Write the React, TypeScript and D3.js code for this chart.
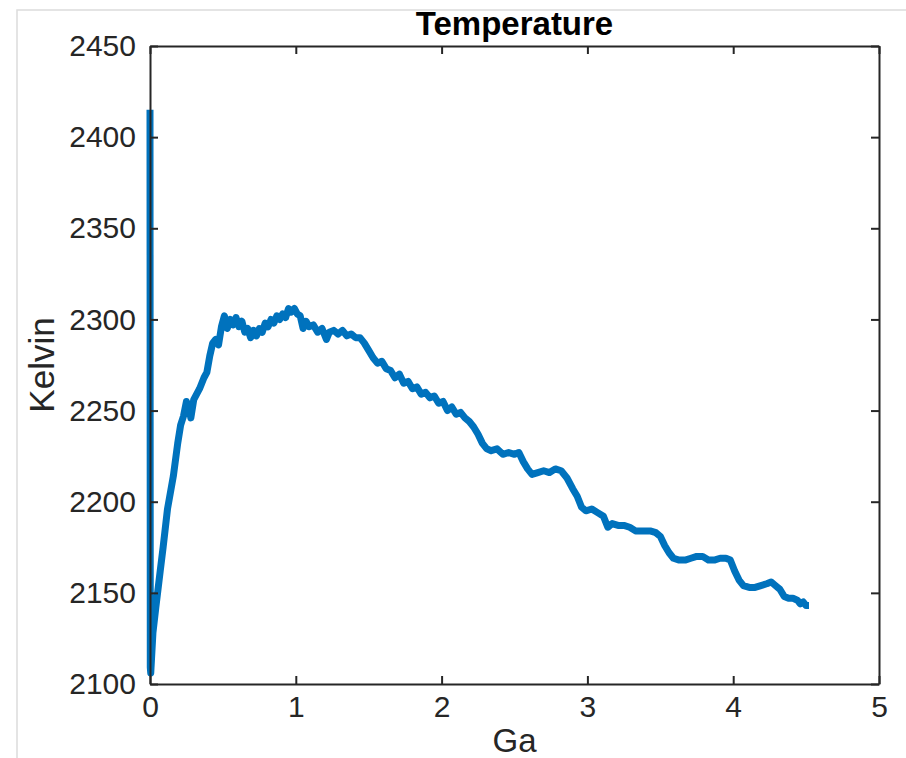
import { useEffect, useRef } from 'react';
import * as d3 from 'd3';

// Temperature series (Ga, Kelvin)
const ga = [
  0, 0.002, 0.005, 0.02, 0.04, 0.07, 0.09, 0.12, 0.16, 0.19, 0.21, 0.23, 0.25, 0.27, 0.28, 0.30,
  0.32, 0.34, 0.37, 0.39, 0.41, 0.43, 0.45, 0.47, 0.49, 0.51, 0.53, 0.55, 0.57, 0.59, 0.61, 0.63,
  0.65, 0.67, 0.69, 0.71, 0.73, 0.75, 0.77, 0.79, 0.81, 0.83, 0.85, 0.87, 0.89, 0.91, 0.93, 0.95,
  0.97, 0.99, 1.01, 1.03, 1.05, 1.07, 1.09, 1.12, 1.15, 1.18, 1.21, 1.23, 1.26, 1.29, 1.32, 1.35,
  1.38, 1.41, 1.44, 1.47, 1.50, 1.53, 1.56, 1.59, 1.62, 1.65, 1.68, 1.71, 1.74, 1.77, 1.80, 1.83,
  1.86, 1.89, 1.92, 1.95, 1.98, 2.01, 2.04, 2.07, 2.10, 2.13, 2.16, 2.19, 2.22, 2.25, 2.28, 2.31,
  2.34, 2.38, 2.42, 2.46, 2.50, 2.53, 2.56, 2.59, 2.62, 2.66, 2.70, 2.74, 2.78, 2.82, 2.86, 2.90,
  2.93, 2.96, 2.99, 3.03, 3.07, 3.11, 3.14, 3.17, 3.21, 3.25, 3.29, 3.33, 3.38, 3.43, 3.47, 3.50,
  3.53, 3.56, 3.59, 3.63, 3.67, 3.71, 3.75, 3.79, 3.83, 3.87, 3.91, 3.95, 3.98, 4.01, 4.04, 4.07,
  4.11, 4.15, 4.19, 4.23, 4.26, 4.29, 4.32, 4.35, 4.38, 4.41, 4.44, 4.46, 4.48, 4.50, 4.52,
];
const kelvin = [
  2415, 2109, 2106, 2128, 2142, 2162, 2175, 2196, 2214, 2232, 2242, 2247, 2255, 2250, 2246, 2256,
  2259, 2262, 2268, 2271, 2280, 2287, 2289, 2286, 2296, 2302, 2295, 2300, 2297, 2301, 2296, 2299,
  2293, 2295, 2290, 2294, 2291, 2295, 2293, 2298, 2296, 2300, 2298, 2302, 2300, 2303, 2301, 2306,
  2304, 2306, 2303, 2302, 2295, 2299, 2296, 2297, 2293, 2295, 2289, 2293, 2294, 2292, 2294, 2291,
  2292, 2290, 2290, 2287, 2283, 2279, 2276, 2277, 2273, 2272, 2268, 2270, 2265, 2266, 2262, 2263,
  2259, 2260, 2257, 2258, 2254, 2255, 2250, 2252, 2248, 2249, 2246, 2244, 2241, 2237, 2232, 2229,
  2228, 2229, 2226, 2227, 2226, 2227, 2222, 2218, 2215, 2216, 2217, 2216, 2218, 2217, 2213, 2207,
  2203, 2197, 2195, 2196, 2194, 2192, 2186, 2188, 2187, 2187, 2186, 2184, 2184, 2184, 2183, 2181,
  2176, 2172, 2169, 2168, 2168, 2169, 2170, 2170, 2168, 2168, 2169, 2169, 2168, 2162, 2157, 2154,
  2153, 2153, 2154, 2155, 2156, 2154, 2152, 2148, 2147, 2147, 2146, 2144, 2145, 2143, 2143,
];

const xTicks = [0, 1, 2, 3, 4, 5];
const yTicks = [2100, 2150, 2200, 2250, 2300, 2350, 2400, 2450];

const FONT = '"Liberation Sans", Arial, Helvetica, sans-serif';
const AXIS_COLOR = '#262626';

export default function App() {
  const svgRef = useRef<SVGSVGElement>(null);

  useEffect(() => {
    const svg = d3.select(svgRef.current);
    svg.selectAll('*').remove();

    const width = 906;
    const height = 758;
    const plot = { left: 150, right: 879, top: 46, bottom: 684 };

    const x = d3.scaleLinear().domain([0, 5]).range([plot.left, plot.right]);
    const y = d3.scaleLinear().domain([2100, 2450]).range([plot.bottom, plot.top]);

    svg.attr('width', width).attr('height', height);

    // faint frame of the original screenshot
    svg.append('path')
      .attr('d', `M17,${height + 5}V10H${width + 5}`)
      .attr('fill', 'none')
      .attr('stroke', '#dcdcdc')
      .attr('stroke-width', 1.5);

    const data = ga.map((g, i) => ({ g, k: kelvin[i] }));

    const line = d3.line<{ g: number; k: number }>()
      .x(d => x(d.g))
      .y(d => y(d.k));

    svg.append('path')
      .datum(data)
      .attr('fill', 'none')
      .attr('stroke', '#0072BD')
      .attr('stroke-width', 7)
      .attr('stroke-linejoin', 'round')
      .attr('d', line);

    const styleAxis = (g: any) => {
      g.select('.domain').attr('stroke', AXIS_COLOR).attr('stroke-width', 2);
      g.selectAll('.tick line').attr('stroke', AXIS_COLOR).attr('stroke-width', 2);
      g.selectAll('.tick text')
        .attr('fill', AXIS_COLOR)
        .style('font-family', FONT)
        .style('font-size', '30px');
    };

    // bottom
    svg.append('g')
      .attr('transform', `translate(0,${plot.bottom})`)
      .call(d3.axisBottom(x).tickValues(xTicks).tickSizeInner(-8).tickSizeOuter(0).tickPadding(12).tickFormat(d3.format('d')))
      .call(styleAxis);

    // top
    svg.append('g')
      .attr('transform', `translate(0,${plot.top})`)
      .call(d3.axisTop(x).tickValues(xTicks).tickSizeInner(-8).tickSizeOuter(0).tickFormat(() => ''))
      .call(styleAxis);

    // left
    svg.append('g')
      .attr('transform', `translate(${plot.left},0)`)
      .call(d3.axisLeft(y).tickValues(yTicks).tickSizeInner(-8).tickSizeOuter(0).tickPadding(14).tickFormat(d3.format('d')))
      .call(styleAxis);

    // right
    svg.append('g')
      .attr('transform', `translate(${plot.right},0)`)
      .call(d3.axisRight(y).tickValues(yTicks).tickSizeInner(-8).tickSizeOuter(0).tickFormat(() => ''))
      .call(styleAxis);

    const mid = (plot.left + plot.right) / 2;

    svg.append('text')
      .attr('x', mid)
      .attr('y', 35)
      .attr('text-anchor', 'middle')
      .style('font-family', FONT)
      .style('font-size', '33px')
      .style('font-weight', 'bold')
      .attr('fill', '#000')
      .text('Temperature');

    svg.append('text')
      .attr('x', mid)
      .attr('y', 752)
      .attr('text-anchor', 'middle')
      .style('font-family', FONT)
      .style('font-size', '33px')
      .attr('fill', AXIS_COLOR)
      .text('Ga');

    svg.append('text')
      .attr('transform', `translate(54,${(plot.top + plot.bottom) / 2}) rotate(-90)`)
      .attr('text-anchor', 'middle')
      .style('font-family', FONT)
      .style('font-size', '35px')
      .attr('fill', AXIS_COLOR)
      .text('Kelvin');
  }, []);

  return (
    <svg
      ref={svgRef}
      style={{ position: 'absolute', left: 0, top: 0, background: '#fff' }}
    ></svg>
  );
}
